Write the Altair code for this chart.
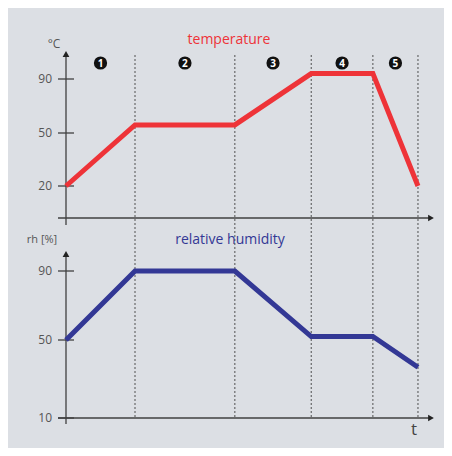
import altair as alt
import pandas as pd

# ---- data ----
phase_t = [0, 1.5, 3.67, 5.33, 6.67, 7.65]        # time points (arbitrary units)
temp_vals = [20, 56, 56, 94, 94, 20]             # temperature °C
rh_vals = [50, 90, 90, 52, 52, 36]               # relative humidity %
phase_labels = ["1", "2", "3", "4", "5"]
temp_ticks = [20, 50, 90]
rh_ticks = [10, 50, 90]

BG = "#dcdfe4"
AX = "#404040"
RED = "#ee3338"
NAVY = "#333895"
FONT = "Open Sans"

W, H = 369, 368

xs = alt.Scale(domain=[0, 8.02], nice=False, zero=False)
ts = alt.Scale(domain=[0, 20, 50, 90], range=[168, 136, 83, 29], nice=False, zero=False)
hs = alt.Scale(domain=[10, 50, 90], range=[368, 290, 221], nice=False, zero=False)

line_df = pd.DataFrame({"t": phase_t, "temp": temp_vals, "rh": rh_vals})
bounds_df = pd.DataFrame({"t": phase_t[1:]})
mids_df = pd.DataFrame({
    "t": [(a + b) / 2 for a, b in zip(phase_t[:-1], phase_t[1:])],
    "lab": phase_labels,
})
tt_df = pd.DataFrame({"v": temp_ticks, "s": [str(v) for v in temp_ticks]})
ht_df = pd.DataFrame({"v": rh_ticks, "s": [str(v) for v in rh_ticks]})
one = alt.Data(values=[{}])

X = alt.X("t:Q", scale=xs, axis=None)

# dashed phase boundaries
dashes = alt.Chart(bounds_df).mark_rule(color="#505050", strokeWidth=1, strokeDash=[2, 2]).encode(
    x=X, y=alt.value(5), y2=alt.value(368))

# phase markers
circles = alt.Chart(mids_df).mark_point(shape="circle", filled=True, color="#111111", size=175, opacity=1).encode(
    x=X, y=alt.value(13))
nums = alt.Chart(mids_df).mark_text(color="white", fontSize=10, fontWeight="bold", font=FONT,
                                    baseline="middle").encode(
    x=X, y=alt.value(13.5), text="lab:N")

# axis lines and arrows
def vline(y0, y1):
    return alt.Chart(one).mark_rule(color=AX, strokeWidth=1.3).encode(
        x=alt.value(0), y=alt.value(y0), y2=alt.value(y1))

def hline(y):
    return alt.Chart(one).mark_rule(color=AX, strokeWidth=1.3).encode(
        x=alt.value(-8), x2=alt.value(364), y=alt.value(y))

def arrow(x, y, shape):
    return alt.Chart(one).mark_point(shape=shape, filled=True, color="#222222", size=45, opacity=1).encode(
        x=alt.value(x), y=alt.value(y))

axes = [vline(4, 175), hline(168), arrow(0, 4, "triangle-up"), arrow(365, 168, "triangle-right"),
        vline(204, 374), hline(368), arrow(0, 204, "triangle-up"), arrow(365, 368, "triangle-right")]

def txt(s, x, y, color, size, align="center"):
    return alt.Chart(alt.Data(values=[{"s": s}])).mark_text(
        color=color, fontSize=size, font=FONT, align=align, baseline="middle").encode(
        x=alt.value(x), y=alt.value(y), text="s:N")

texts = [
    txt("temperature", 163, -10, RED, 14),
    txt("relative humidity", 164, 190, NAVY, 14),
    txt("°C", -12, -6, "#555555", 12),
    txt("rh [%]", -24, 190, "#555555", 11),
    txt("t", 348, 380, "#444444", 17),
]

# temperature panel
temp_line = alt.Chart(line_df).mark_line(color=RED, strokeWidth=5, strokeJoin="miter", strokeCap="butt").encode(
    x=X, y=alt.Y("temp:Q", scale=ts, axis=None))
temp_tk = alt.Chart(tt_df).mark_rule(color=AX, strokeWidth=1.3).encode(
    x=alt.value(-8), x2=alt.value(8), y=alt.Y("v:Q", scale=ts, axis=None))
temp_lb = alt.Chart(tt_df).mark_text(color="#555555", fontSize=12, font=FONT, align="right", baseline="middle").encode(
    x=alt.value(-14), y=alt.Y("v:Q", scale=ts, axis=None), text="s:N")
temp_layer = alt.layer(temp_tk, temp_lb, temp_line)

# humidity panel
rh_line = alt.Chart(line_df).mark_line(color=NAVY, strokeWidth=5, strokeJoin="miter", strokeCap="butt").encode(
    x=X, y=alt.Y("rh:Q", scale=hs, axis=None))
rh_tk = alt.Chart(ht_df).mark_rule(color=AX, strokeWidth=1.3).encode(
    x=alt.value(-8), x2=alt.value(8), y=alt.Y("v:Q", scale=hs, axis=None))
rh_lb = alt.Chart(ht_df).mark_text(color="#555555", fontSize=12, font=FONT, align="right", baseline="middle").encode(
    x=alt.value(-14), y=alt.Y("v:Q", scale=hs, axis=None), text="s:N")
rh_layer = alt.layer(rh_tk, rh_lb, rh_line)

chart = alt.layer(
    dashes, *axes, circles, nums, *texts,
    alt.layer(temp_layer, rh_layer).resolve_scale(y="independent"),
).properties(
    width=W, height=H,
    autosize=alt.AutoSizeParams(type="none"),
    padding={"left": 58, "top": 42, "right": 9, "bottom": 30},
    background=BG,
).configure_view(stroke=None, fill=None)

chart.save("out.html", embed_options={"renderer": "svg", "actions": False})
